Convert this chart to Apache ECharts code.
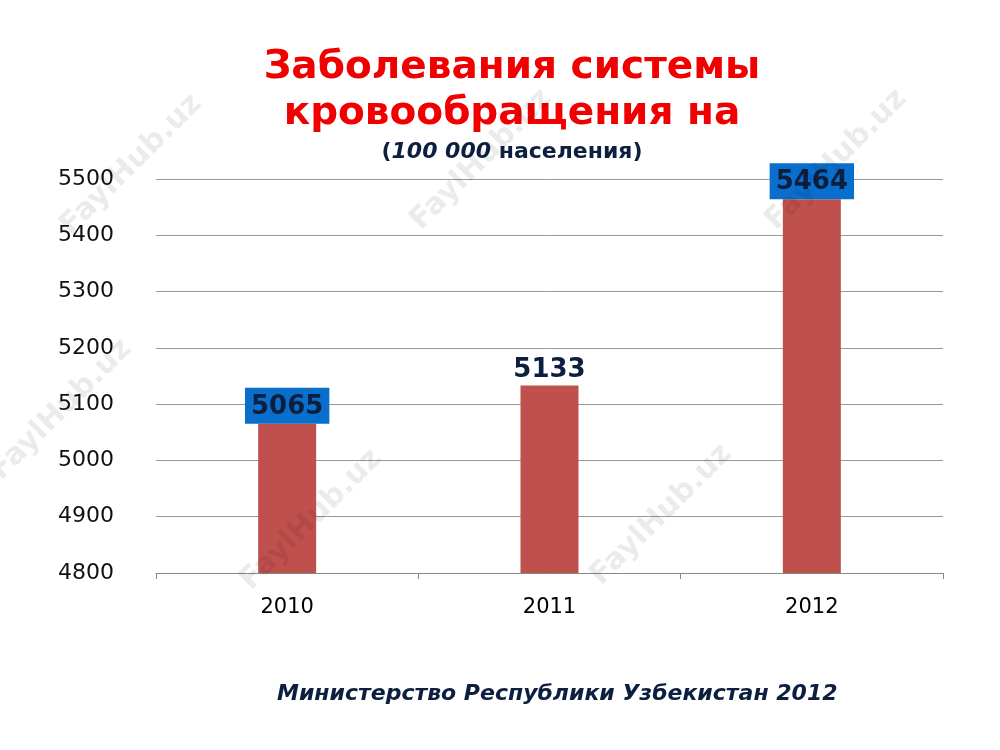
<!DOCTYPE html>
<html><head><meta charset="utf-8">
<script src="https://cdn.jsdelivr.net/npm/echarts@6/dist/echarts.min.js"></script>
<style>html,body{margin:0;background:#fff}#c{width:1000px;height:750px}</style>
</head><body><div id="c"></div>
<script>
var years = ['2010', '2011', '2012'];
var values = [5065, 5133, 5464];
var boxed = [true, false, true];

var chart = echarts.init(document.getElementById('c'));
var marks = [[55,220],[405,215],[760,215],[-15,465],[235,575],[585,570]];
var wm = marks.map(function(p){
    return {type:'text', x:p[0], y:p[1], rotation:Math.PI/4, z:100,
        style:{text:'FaylHub.uz', font:'bold 30px "DejaVu Sans"', fill:'rgba(0,0,0,0.08)'}};
});
chart.setOption({
    title: {
        text: 'Заболевания системы\nкровообращения на',
        subtext: '{p|(}{i|100 000}{p| населения)}',
        left: 507, top: 40, textAlign: 'center', itemGap: 4,
        textStyle: {fontFamily:'DejaVu Sans', fontSize:39, fontWeight:'bold', color:'#f00000', lineHeight:46},
        subtextStyle: {rich:{
            p:{fontFamily:'DejaVu Sans', fontSize:22, fontWeight:'bold', color:'#0d1f3f'},
            i:{fontFamily:'DejaVu Sans', fontSize:22, fontWeight:'bold', fontStyle:'italic', color:'#0d1f3f'}
        }}
    },
    graphic: wm.concat([{type:'text', left:277, top:683,
        style:{text:'Министерство Республики Узбекистан 2012', font:'italic bold 22px "DejaVu Sans"', fill:'#0d1f3f'}}]),
    grid: {left:156, right:57, top:179, bottom:177},
    xAxis: {
        type:'category', data: years,
        axisLine:{lineStyle:{color:'#888'}},
        axisTick:{show:true, length:6, lineStyle:{color:'#888'}},
        axisLabel:{fontFamily:'DejaVu Sans', fontSize:21, color:'#000', margin:24}
    },
    yAxis: {
        type:'value', min:4800, max:5500, interval:100,
        axisLine:{show:false}, axisTick:{show:false},
        splitLine:{lineStyle:{color:'#999'}},
        axisLabel:{fontFamily:'DejaVu Sans', fontSize:22, color:'#111', margin:42,
            formatter:function(v){ return String(v); }}
    },
    series: [{
        type:'bar', barWidth:58,
        itemStyle:{color:'#c0504d'},
        data: values.map(function(v, i){
            return {value:v, label:{
                show:true, position:'top', distance: boxed[i] ? 0 : 2,
                fontFamily:'DejaVu Sans', fontSize:26, fontWeight:'bold', color:'#0d1f3f',
                backgroundColor: boxed[i] ? '#0a6fcc' : 'transparent',
                padding: boxed[i] ? [6,6,4,6] : 0
            }};
        })
    }]
});
</script></body></html>
